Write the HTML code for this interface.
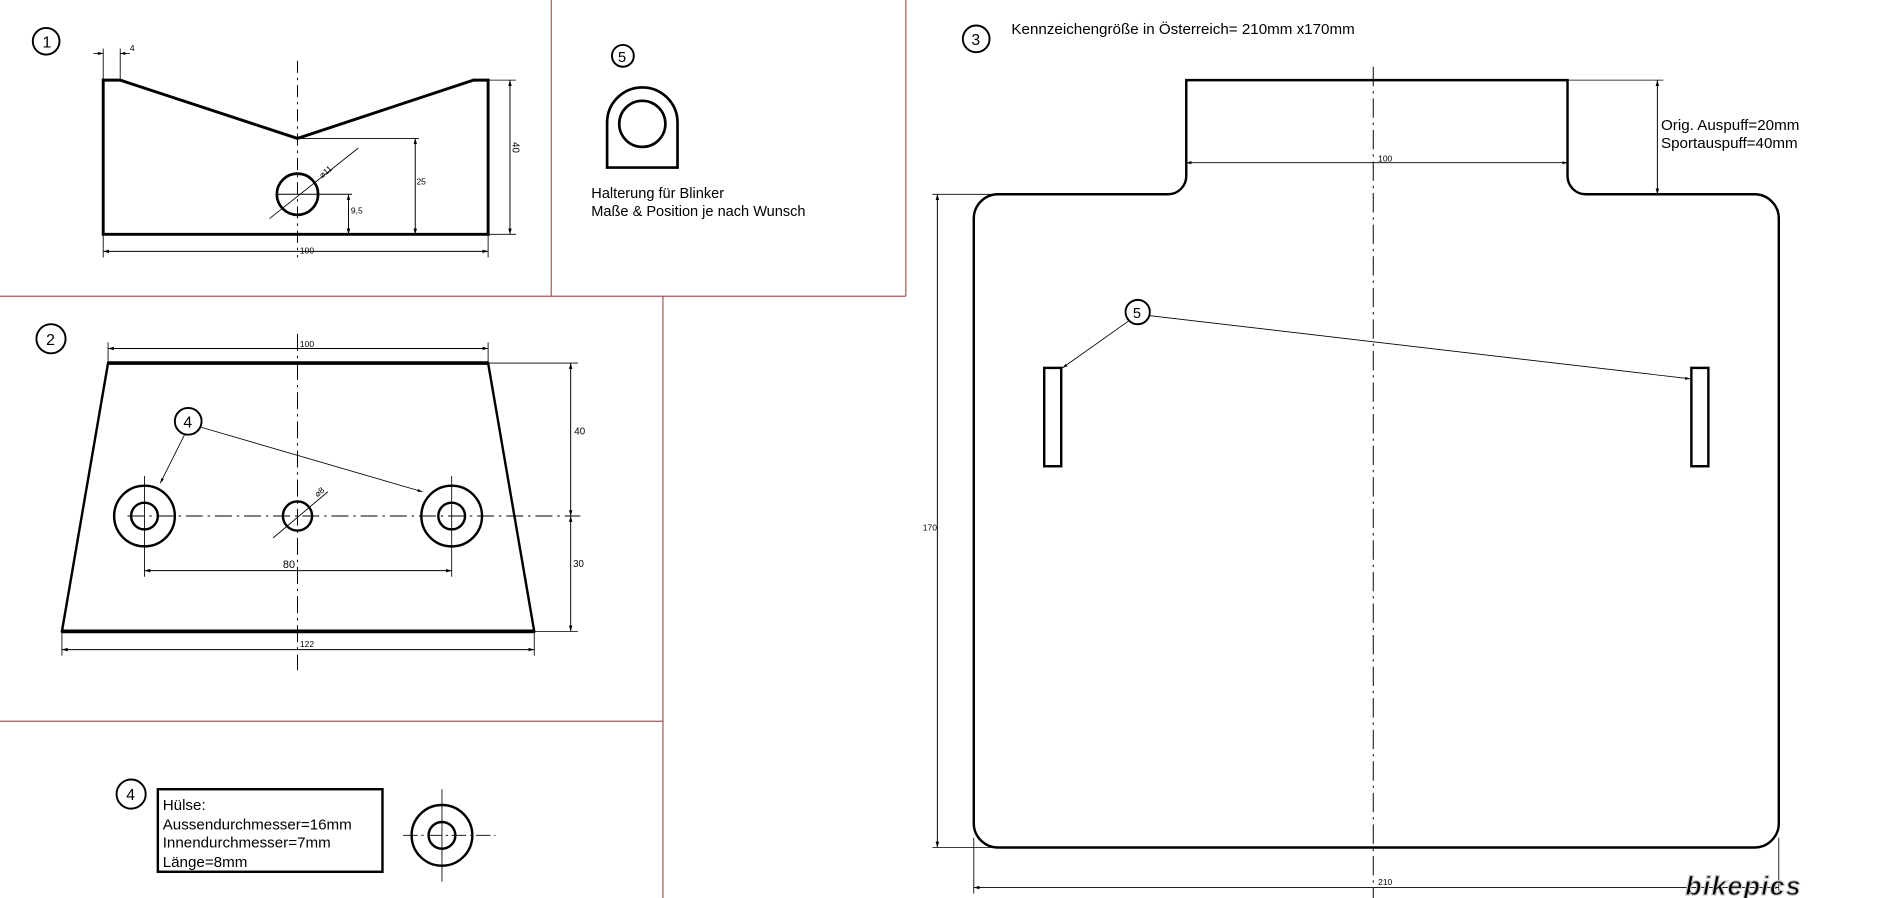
<!DOCTYPE html>
<html><head><meta charset="utf-8"><style>
html,body{margin:0;padding:0;background:#fff;width:1882px;height:898px;overflow:hidden}
svg{display:block}
text{font-family:"Liberation Sans",sans-serif;fill:#000}
</style></head><body>
<svg width="1882" height="898" viewBox="0 0 1550 739.6" preserveAspectRatio="none" xmlns="http://www.w3.org/2000/svg">
<defs>
<marker id="a" viewBox="0 0 10 10" refX="10" refY="5" markerWidth="6" markerHeight="6" orient="auto-start-reverse"><path d="M0,2 L10,5 L0,8z" fill="#000"/></marker>
</defs>
<rect width="1550" height="740" fill="#fff"/>
<g stroke="#a05a5a" stroke-width="1" fill="none">
<line x1="454" y1="0" x2="454" y2="244"/>
<line x1="746" y1="0" x2="746" y2="244"/>
<line x1="0" y1="244" x2="746" y2="244"/>
<line x1="546" y1="244" x2="546" y2="740"/>
<line x1="0" y1="594" x2="546" y2="594"/>
</g>

<g fill="none" stroke="#000">
<circle cx="38" cy="34" r="11" stroke-width="1.6"/>
<path d="M85,193 L85,66 L99,66 L245,114 L390,66 L402,66 L402,193 Z" stroke-width="2.4"/>
<line x1="245" y1="50" x2="245" y2="212" stroke-width="0.8" stroke-dasharray="10,4,2,4"/>
<circle cx="245" cy="160" r="17" stroke-width="2.2"/>
<line x1="228" y1="160" x2="290" y2="160" stroke-width="0.8"/>
<line x1="222" y1="180" x2="295" y2="122" stroke-width="0.7"/>
<line x1="85" y1="40" x2="85" y2="66" stroke-width="0.7"/>
<line x1="99" y1="40" x2="99" y2="66" stroke-width="0.7"/>
<line x1="77" y1="44" x2="85" y2="44" stroke-width="0.7" marker-end="url(#a)"/>
<line x1="107" y1="44" x2="99" y2="44" stroke-width="0.7" marker-end="url(#a)"/>
<line x1="85" y1="207" x2="402" y2="207" stroke-width="0.8" marker-start="url(#a)" marker-end="url(#a)"/>
<line x1="85" y1="193" x2="85" y2="212" stroke-width="0.7"/>
<line x1="402" y1="193" x2="402" y2="212" stroke-width="0.7"/>
<line x1="402" y1="66" x2="425" y2="66" stroke-width="0.7"/>
<line x1="402" y1="193" x2="425" y2="193" stroke-width="0.7"/>
<line x1="420" y1="66" x2="420" y2="193" stroke-width="0.8" marker-start="url(#a)" marker-end="url(#a)"/>
<line x1="245" y1="114" x2="345" y2="114" stroke-width="0.7"/>
<line x1="342" y1="114" x2="342" y2="193" stroke-width="0.8" marker-start="url(#a)" marker-end="url(#a)"/>
<line x1="287" y1="160" x2="287" y2="193" stroke-width="0.8" marker-start="url(#a)" marker-end="url(#a)"/>
</g>
<text x="35" y="39" font-size="13">1</text>
<text x="107" y="42" font-size="7">4</text>
<text x="247" y="209" font-size="7">100</text>
<text x="423" y="124" font-size="8" transform="rotate(90 426 120)">40</text>
<text x="343" y="152" font-size="7">25</text>
<text x="289" y="176" font-size="7">9,5</text>
<text x="262" y="146" font-size="7" transform="rotate(-40 265 142)">⌀11</text>

<g fill="none" stroke="#000">
<circle cx="513" cy="46" r="9" stroke-width="1.6"/>
<path d="M500,138 L500,101 A29,29 0 0 1 558,101 L558,138 Z" stroke-width="2.2"/>
<circle cx="529" cy="102" r="19" stroke-width="2.2"/>
</g>
<text x="509" y="51" font-size="12">5</text>
<text x="487" y="163" font-size="12">Halterung für Blinker</text>
<text x="487" y="178" font-size="12">Maße &amp; Position je nach Wunsch</text>

<g fill="none" stroke="#000">
<circle cx="42" cy="279" r="12" stroke-width="1.6"/>
<path d="M89,299 L402,299 L440,520 L51,520 Z" stroke-width="2"/>
<line x1="89" y1="299" x2="402" y2="299" stroke-width="3"/>
<line x1="51" y1="520" x2="440" y2="520" stroke-width="3"/>
<line x1="245" y1="275" x2="245" y2="552" stroke-width="0.8" stroke-dasharray="14,4,2,4"/>
<line x1="105" y1="425" x2="478" y2="425" stroke-width="0.8" stroke-dasharray="14,4,2,4"/>
<circle cx="119" cy="425" r="25" stroke-width="2"/>
<circle cx="119" cy="425" r="11" stroke-width="2"/>
<circle cx="372" cy="425" r="25" stroke-width="2"/>
<circle cx="372" cy="425" r="11" stroke-width="2"/>
<circle cx="245" cy="425" r="12" stroke-width="2"/>
<line x1="119" y1="392" x2="119" y2="475" stroke-width="0.7"/>
<line x1="372" y1="392" x2="372" y2="475" stroke-width="0.7"/>
<line x1="225" y1="443" x2="270" y2="405" stroke-width="0.7"/>
<line x1="89" y1="287" x2="402" y2="287" stroke-width="0.8" marker-start="url(#a)" marker-end="url(#a)"/>
<line x1="89" y1="282" x2="89" y2="299" stroke-width="0.7"/>
<line x1="402" y1="282" x2="402" y2="299" stroke-width="0.7"/>
<line x1="51" y1="535" x2="440" y2="535" stroke-width="0.8" marker-start="url(#a)" marker-end="url(#a)"/>
<line x1="51" y1="520" x2="51" y2="540" stroke-width="0.7"/>
<line x1="440" y1="520" x2="440" y2="540" stroke-width="0.7"/>
<line x1="119" y1="470" x2="372" y2="470" stroke-width="0.8" marker-start="url(#a)" marker-end="url(#a)"/>
<line x1="402" y1="299" x2="476" y2="299" stroke-width="0.7"/>
<line x1="440" y1="520" x2="476" y2="520" stroke-width="0.7"/>
<line x1="470" y1="299" x2="470" y2="425" stroke-width="0.8" marker-start="url(#a)" marker-end="url(#a)"/>
<line x1="470" y1="425" x2="470" y2="520" stroke-width="0.8" marker-start="url(#a)" marker-end="url(#a)"/>
<circle cx="155" cy="347" r="11" stroke-width="1.6"/>
<line x1="152" y1="358" x2="132" y2="398" stroke-width="0.7" marker-end="url(#a)"/>
<line x1="166" y1="352" x2="348" y2="405" stroke-width="0.7" marker-end="url(#a)"/>
</g>
<text x="38" y="284" font-size="13">2</text>
<text x="151" y="352" font-size="13">4</text>
<text x="247" y="286" font-size="7">100</text>
<text x="247" y="533" font-size="7">122</text>
<text x="233" y="468" font-size="9">80</text>
<text x="473" y="358" font-size="8">40</text>
<text x="472" y="467" font-size="8">30</text>
<text x="258" y="408" font-size="7" transform="rotate(-40 262 404)">⌀8</text>

<g fill="none" stroke="#000">
<circle cx="108" cy="654" r="12" stroke-width="1.6"/>
<rect x="130" y="650" width="185" height="68" stroke-width="2"/>
<circle cx="364" cy="688" r="25" stroke-width="2"/>
<circle cx="364" cy="688" r="11" stroke-width="2"/>
<line x1="332" y1="688" x2="408" y2="688" stroke-width="0.7" stroke-dasharray="12,3,2,3"/>
<line x1="364" y1="650" x2="364" y2="726" stroke-width="0.7"/>
</g>
<text x="104" y="659" font-size="13">4</text>
<g font-size="12.5">
<text x="134" y="667">Hülse:</text>
<text x="134" y="683">Aussendurchmesser=16mm</text>
<text x="134" y="698">Innendurchmesser=7mm</text>
<text x="134" y="714">Länge=8mm</text>
</g>

<g fill="none" stroke="#000">
<circle cx="804" cy="32" r="11" stroke-width="1.6"/>
<path d="M962,160 A15,15 0 0 0 977,145 L977,66 L1291,66 L1291,145 A15,15 0 0 0 1306,160 L1445,160 A20,20 0 0 1 1465,180 L1465,678 A20,20 0 0 1 1445,698 L822,698 A20,20 0 0 1 802,678 L802,180 A20,20 0 0 1 822,160 Z" stroke-width="2"/>
<line x1="1131" y1="55" x2="1131" y2="740" stroke-width="0.8" stroke-dasharray="16,4,2,4"/>
<line x1="977" y1="134" x2="1291" y2="134" stroke-width="0.7" marker-start="url(#a)" marker-end="url(#a)"/>
<line x1="1291" y1="66" x2="1370" y2="66" stroke-width="0.7"/>
<line x1="1306" y1="160" x2="1370" y2="160" stroke-width="0.7"/>
<line x1="1365" y1="66" x2="1365" y2="160" stroke-width="0.8" marker-start="url(#a)" marker-end="url(#a)"/>
<line x1="768" y1="160" x2="830" y2="160" stroke-width="0.7"/>
<line x1="768" y1="698" x2="830" y2="698" stroke-width="0.7"/>
<line x1="772" y1="160" x2="772" y2="698" stroke-width="0.8" marker-start="url(#a)" marker-end="url(#a)"/>
<line x1="802" y1="690" x2="802" y2="736" stroke-width="0.7"/>
<line x1="1465" y1="690" x2="1465" y2="736" stroke-width="0.7"/>
<line x1="802" y1="731" x2="1465" y2="731" stroke-width="0.8" marker-start="url(#a)" marker-end="url(#a)"/>
<rect x="860" y="303" width="14" height="81" stroke-width="2"/>
<rect x="1393" y="303" width="14" height="81" stroke-width="2"/>
<circle cx="937" cy="257" r="10" stroke-width="1.6"/>
<line x1="930" y1="264" x2="875" y2="303" stroke-width="0.7" marker-end="url(#a)"/>
<line x1="947" y1="260" x2="1392" y2="312" stroke-width="0.7" marker-end="url(#a)"/>
</g>
<text x="800" y="37" font-size="13">3</text>
<text x="833" y="28" font-size="12.5">Kennzeichengröße in Österreich= 210mm x170mm</text>
<text x="933" y="262" font-size="12">5</text>
<text x="1135" y="133" font-size="7">100</text>
<text x="1368" y="107" font-size="12.5">Orig. Auspuff=20mm</text>
<text x="1368" y="122" font-size="12.5">Sportauspuff=40mm</text>
<text x="760" y="437" font-size="7">170</text>
<text x="1135" y="729" font-size="7">210</text>
<text x="1388" y="737" font-size="22" font-style="italic" font-weight="bold" fill="#fff" stroke="#c8c8c8" stroke-width="1" letter-spacing="1">bikepics</text>
</svg>
</body></html>
